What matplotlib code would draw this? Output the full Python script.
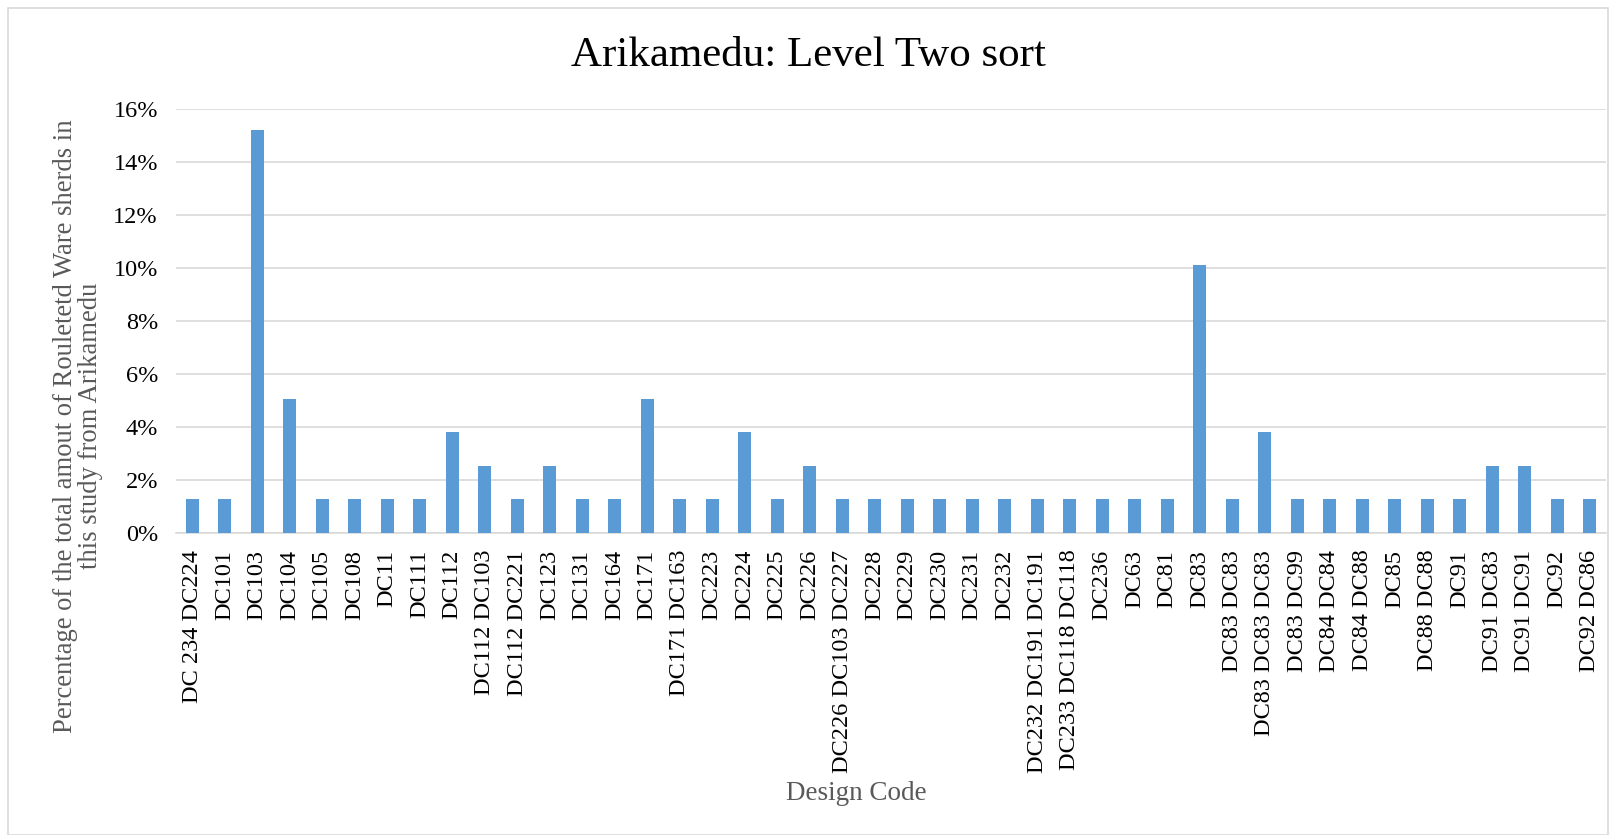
import matplotlib.pyplot as plt
from matplotlib.patches import Rectangle
from matplotlib.ticker import PercentFormatter
import numpy as np

plt.rcParams['font.family'] = ['Liberation Serif', 'DejaVu Serif']

# design codes and their share of the sherds (percent)
codes = ["DC 234 DC224", "DC101", "DC103", "DC104", "DC105", "DC108", "DC11", "DC111",
         "DC112", "DC112 DC103", "DC112 DC221", "DC123", "DC131", "DC164", "DC171",
         "DC171 DC163", "DC223", "DC224", "DC225", "DC226", "DC226 DC103 DC227", "DC228",
         "DC229", "DC230", "DC231", "DC232", "DC232 DC191 DC191", "DC233 DC118 DC118",
         "DC236", "DC63", "DC81", "DC83", "DC83 DC83", "DC83 DC83 DC83", "DC83 DC99",
         "DC84 DC84", "DC84 DC88", "DC85", "DC88 DC88", "DC91", "DC91 DC83", "DC91 DC91",
         "DC92", "DC92 DC86"]
pct = [1.27, 1.27, 15.19, 5.06, 1.27, 1.27, 1.27, 1.27,
       3.80, 2.53, 1.27, 2.53, 1.27, 1.27, 5.06,
       1.27, 1.27, 3.80, 1.27, 2.53, 1.27, 1.27,
       1.27, 1.27, 1.27, 1.27, 1.27, 1.27,
       1.27, 1.27, 1.27, 10.13, 1.27, 3.80, 1.27,
       1.27, 1.27, 1.27, 1.27, 1.27, 2.53, 2.53,
       1.27, 1.27]

fig = plt.figure(figsize=(16.16, 8.35), dpi=100)
ax = fig.add_axes([176 / 1616, 1 - 533 / 835, (1606 - 176) / 1616, (533 - 109) / 835])

x = np.arange(len(codes))
ax.bar(x, pct, width=0.4, color='#5B9BD5', zorder=3)

ax.set_xlim(-0.5, len(codes) - 0.5)
ax.set_ylim(0, 16)
ax.set_yticks(np.arange(0, 17, 2))
ax.yaxis.set_major_formatter(PercentFormatter(decimals=0))
ax.grid(axis='y', color='#D9D9D9', linewidth=1.2, zorder=0)
for s in ['top', 'right', 'left']:
    ax.spines[s].set_visible(False)
ax.spines['bottom'].set_color('#D9D9D9')
ax.spines['bottom'].set_linewidth(1.2)
ax.tick_params(length=0, labelsize=17.5, colors='black')
ax.tick_params(axis='y', pad=13)
ax.tick_params(axis='x', pad=12)
ax.set_xticks(x)
ax.set_xticklabels(codes, rotation=90)

fig.text(0.5, 1 - 56 / 835, "Arikamedu: Level Two sort", ha='center', va='center', fontsize=31)
fig.text(0.53, 1 - 793 / 835, "Design Code", ha='center', va='center', fontsize=19.5, color='#595959')
fig.text(78 / 1616, 1 - 426 / 835,
         "Percentage of the total amout of Rouletetd Ware sherds in\nthis study from Arikamedu",
         ha='center', va='center', rotation=90, fontsize=19.2, color='#595959', linespacing=0.95)

fig.patches.append(Rectangle((8 / 1616, 0), 1 - 16 / 1616, 1 - 8 / 835, transform=fig.transFigure,
                             fill=False, edgecolor='#D9D9D9', linewidth=1.2))

fig.savefig('out.png', dpi=100)
